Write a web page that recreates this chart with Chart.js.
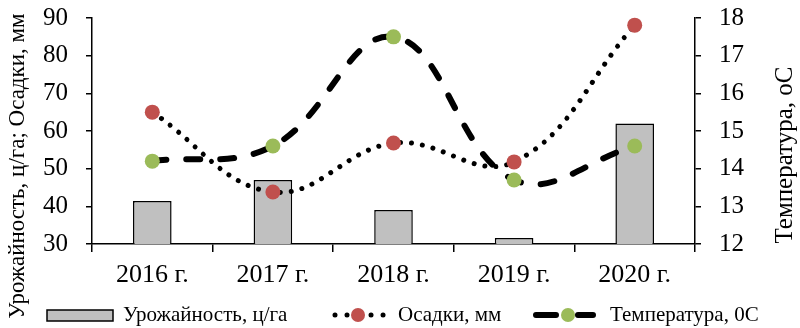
<!DOCTYPE html>
<html>
<head>
<meta charset="utf-8">
<script src="https://cdn.jsdelivr.net/npm/chart.js@4/dist/chart.umd.min.js"></script>
<style>
  html, body { margin: 0; padding: 0; background: #fff; }
  #wrap { width: 800px; height: 328px; }
</style>
</head>
<body>
<div id="wrap"><canvas id="chart" width="800" height="328"></canvas></div>
<script>
// Years and observed values
const categories = ['2016 г.', '2017 г.', '2018 г.', '2019 г.', '2020 г.'];
const yieldValues = [41.4, 47, 39, 31.6, 62];          // Урожайность, ц/га
const precipValues = [65, 43.8, 56.8, 51.8, 88.1];     // Осадки, мм
const tempValues = [14.2, 14.6, 17.5, 13.7, 14.6];     // Температура, 0С

const seriesNames = ['Урожайность, ц/га', 'Осадки, мм', 'Температура, 0С'];
const leftTitle = 'Урожайность, ц/га; Осадки, мм';
const rightTitle = 'Температура, оС';

const SERIF = "'Liberation Serif', 'Times New Roman', serif";
const BAR_FILL = '#c0c0c0';
const RED = '#c0504d';
const GREEN = '#9bbb59';

// Axis titles and the legend row are painted after the chart itself
const decorations = {
  id: 'decorations',
  afterDraw(chart) {
    const ctx = chart.ctx;
    ctx.save();
    ctx.fillStyle = '#000';
    ctx.textAlign = 'center';
    ctx.textBaseline = 'middle';

    // left axis title
    ctx.font = '23px ' + SERIF;
    ctx.save();
    ctx.translate(18, 166);
    ctx.rotate(-Math.PI / 2);
    ctx.fillText(leftTitle, 0, 0);
    ctx.restore();

    // right axis title
    ctx.font = '25px ' + SERIF;
    ctx.save();
    ctx.translate(785, 155);
    ctx.rotate(-Math.PI / 2);
    ctx.fillText(rightTitle, 0, 0);
    ctx.restore();

    // legend
    const ly = 315;
    ctx.font = '21px ' + SERIF;
    ctx.textAlign = 'left';

    // bar swatch
    ctx.fillStyle = BAR_FILL;
    ctx.fillRect(47, 310, 66, 11);
    ctx.strokeStyle = '#000';
    ctx.lineWidth = 1.5;
    ctx.strokeRect(47, 310, 66, 11);
    ctx.fillStyle = '#000';
    ctx.fillText(seriesNames[0], 123, ly);

    // dotted line swatch
    ctx.beginPath();
    ctx.setLineDash([0.01, 12]);
    ctx.lineCap = 'round';
    ctx.lineWidth = 5;
    ctx.moveTo(335, ly);
    ctx.lineTo(384, ly);
    ctx.stroke();
    ctx.setLineDash([]);
    ctx.beginPath();
    ctx.fillStyle = RED;
    ctx.arc(358, ly, 7, 0, Math.PI * 2);
    ctx.fill();
    ctx.fillStyle = '#000';
    ctx.fillText(seriesNames[1], 398, ly);

    // dashed line swatch
    ctx.lineWidth = 6;
    ctx.lineCap = 'round';
    ctx.beginPath();
    ctx.moveTo(536, ly);
    ctx.lineTo(556, ly);
    ctx.moveTo(578, ly);
    ctx.lineTo(593, ly);
    ctx.stroke();
    ctx.beginPath();
    ctx.fillStyle = GREEN;
    ctx.arc(568, ly, 7, 0, Math.PI * 2);
    ctx.fill();
    ctx.fillStyle = '#000';
    ctx.fillText(seriesNames[2], 610, ly);

    ctx.restore();
  }
};

const yTickFont = { family: SERIF, size: 25 };
const xTickFont = { family: SERIF, size: 26 };

// fixed box sizes so the plot area sits at 92..695 x 18..244
function fixY(width) {
  return function (scale) {
    scale.width = width;
    scale.paddingTop = 0;
    scale.paddingBottom = 0;
  };
}

new Chart(document.getElementById('chart'), {
  type: 'bar',
  data: {
    labels: categories,
    datasets: [
      {
        type: 'line',
        label: seriesNames[1],
        data: precipValues,
        yAxisID: 'y',
        order: 1,
        borderColor: '#000',
        borderWidth: 5,
        borderDash: [0.01, 11],
        borderCapStyle: 'round',
        tension: 0.4,
        pointRadius: 7.5,
        pointBackgroundColor: RED,
        pointBorderWidth: 0,
        pointBorderColor: RED,
        clip: false
      },
      {
        type: 'line',
        label: seriesNames[2],
        data: tempValues,
        yAxisID: 'y1',
        order: 2,
        borderColor: '#000',
        borderWidth: 6,
        borderDash: [14, 20],
        borderCapStyle: 'round',
        tension: 0.4,
        pointRadius: 7.5,
        pointBackgroundColor: GREEN,
        pointBorderWidth: 0,
        pointBorderColor: GREEN,
        clip: false
      },
      {
        type: 'bar',
        label: seriesNames[0],
        data: yieldValues,
        yAxisID: 'y',
        order: 3,
        backgroundColor: BAR_FILL,
        borderColor: '#000',
        borderWidth: 1.5,
        borderSkipped: 'bottom',
        categoryPercentage: 1,
        barPercentage: 0.32
      }
    ]
  },
  options: {
    responsive: false,
    animation: false,
    devicePixelRatio: 1,
    layout: { padding: { top: 18, left: 0, right: 0, bottom: 0 } },
    plugins: {
      legend: { display: false },
      tooltip: { enabled: false }
    },
    scales: {
      x: {
        offset: true,
        grid: {
          offset: true,
          drawOnChartArea: false,
          drawTicks: true,
          tickLength: 8,
          color: '#000',
          lineWidth: 1.5
        },
        border: { display: true, color: '#000', width: 1.5 },
        ticks: { color: '#000', font: xTickFont, padding: 8, maxRotation: 0 },
        afterFit(scale) {
          scale.height = 84;
          scale.paddingLeft = 0;
          scale.paddingRight = 0;
        }
      },
      y: {
        position: 'left',
        min: 30,
        max: 90,
        ticks: { stepSize: 10, color: '#000', font: yTickFont, padding: 18 },
        grid: { drawOnChartArea: false, tickLength: 6, color: '#000', lineWidth: 1.5 },
        border: { display: true, color: '#000', width: 1.5 },
        afterFit: fixY(92)
      },
      y1: {
        position: 'right',
        min: 12,
        max: 18,
        ticks: { stepSize: 1, color: '#000', font: yTickFont, padding: 18 },
        grid: { drawOnChartArea: false, tickLength: 6, color: '#000', lineWidth: 1.5 },
        border: { display: true, color: '#000', width: 1.5 },
        afterFit: fixY(105)
      }
    }
  },
  plugins: [decorations]
});
</script>
</body>
</html>
